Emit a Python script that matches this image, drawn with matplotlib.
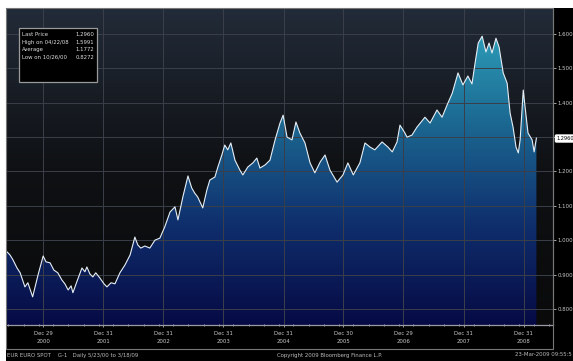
import numpy as np
import pandas as pd
import matplotlib
matplotlib.use("Agg")
import matplotlib.pyplot as plt
import matplotlib.dates as mdates
from matplotlib.colors import LinearSegmentedColormap
from matplotlib.patches import Rectangle

# EUR/USD spot
dates = ["2000-05-23", "2000-06-10", "2000-06-28", "2000-07-23", "2000-08-11", "2000-08-29",
         "2000-09-09", "2000-09-27", "2000-10-26", "2000-11-10", "2000-11-28", "2000-12-29",
         "2001-01-15", "2001-02-09", "2001-03-04", "2001-03-28", "2001-04-22", "2001-05-10",
         "2001-05-30", "2001-06-17", "2001-06-28", "2001-07-22", "2001-08-22", "2001-09-09",
         "2001-09-21", "2001-10-09", "2001-10-27", "2001-11-14", "2001-12-09", "2002-01-03",
         "2002-01-21", "2002-02-15", "2002-03-11", "2002-04-10", "2002-05-11", "2002-06-11",
         "2002-07-10", "2002-07-28", "2002-08-15", "2002-09-09", "2002-10-09", "2002-11-09",
         "2002-12-09", "2003-01-08", "2003-02-09", "2003-03-11", "2003-03-29", "2003-04-28",
         "2003-05-29", "2003-06-21", "2003-07-09", "2003-07-27", "2003-08-27", "2003-09-21",
         "2003-10-09", "2003-11-09", "2003-11-27", "2003-12-21", "2004-01-08", "2004-01-26",
         "2004-02-14", "2004-03-10", "2004-04-09", "2004-04-27", "2004-05-27", "2004-06-27",
         "2004-07-21", "2004-08-09", "2004-09-09", "2004-10-09", "2004-11-09", "2004-12-09",
         "2004-12-28", "2005-01-21", "2005-02-20", "2005-03-16", "2005-04-09", "2005-05-10",
         "2005-06-10", "2005-07-09", "2005-08-11", "2005-09-09", "2005-10-09", "2005-11-21",
         "2005-12-27", "2006-01-26", "2006-02-28", "2006-04-09", "2006-05-10", "2006-06-10",
         "2006-07-09", "2006-08-22", "2006-09-27", "2006-10-23", "2006-11-21", "2006-12-09",
         "2007-01-08", "2007-01-21", "2007-02-20", "2007-03-22", "2007-05-10", "2007-06-10",
         "2007-07-22", "2007-08-22", "2007-09-21", "2007-10-23", "2007-11-27", "2007-12-27",
         "2008-01-26", "2008-02-20", "2008-03-11", "2008-03-29", "2008-04-22", "2008-05-15",
         "2008-06-03", "2008-06-21", "2008-07-15", "2008-08-03", "2008-08-28", "2008-09-21",
         "2008-10-09", "2008-10-27", "2008-11-14", "2008-11-28", "2008-12-09", "2008-12-28",
         "2009-01-08", "2009-01-26", "2009-02-20", "2009-03-04", "2009-03-18"]
prices = [0.966, 0.957, 0.943, 0.919, 0.905, 0.879,
          0.864, 0.876, 0.835, 0.864, 0.899, 0.954,
          0.937, 0.934, 0.913, 0.905, 0.884, 0.873,
          0.855, 0.867, 0.847, 0.879, 0.919, 0.908,
          0.922, 0.902, 0.893, 0.905, 0.890, 0.873,
          0.864, 0.876, 0.873, 0.905, 0.928, 0.957,
          1.009, 0.986, 0.977, 0.983, 0.977, 1.000,
          1.006, 1.039, 1.082, 1.097, 1.059, 1.126,
          1.187, 1.152, 1.137, 1.126, 1.094, 1.146,
          1.175, 1.184, 1.213, 1.248, 1.277, 1.263,
          1.283, 1.233, 1.204, 1.190, 1.213, 1.225,
          1.239, 1.210, 1.219, 1.233, 1.292, 1.341,
          1.364, 1.300, 1.292, 1.344, 1.312, 1.283,
          1.225, 1.196, 1.228, 1.248, 1.204, 1.169,
          1.190, 1.225, 1.190, 1.225, 1.283, 1.271,
          1.263, 1.286, 1.271, 1.257, 1.286, 1.335,
          1.312, 1.300, 1.306, 1.329, 1.358, 1.341,
          1.379, 1.358, 1.393, 1.428, 1.487, 1.452,
          1.478, 1.455, 1.519, 1.574, 1.594, 1.548,
          1.574, 1.545, 1.588, 1.562, 1.487, 1.457,
          1.370, 1.329, 1.271, 1.254, 1.292, 1.437,
          1.388, 1.312, 1.292, 1.257, 1.297]

tick_dates = ["2000-12-29", "2001-12-31", "2002-12-31", "2003-12-31", "2004-12-31",
              "2005-12-30", "2006-12-29", "2007-12-31", "2008-12-31"]
tick_labels = ["Dec 29\n2000", "Dec 31\n2001", "Dec 31\n2002", "Dec 31\n2003", "Dec 31\n2004",
               "Dec 30\n2005", "Dec 29\n2006", "Dec 31\n2007", "Dec 31\n2008"]
y_ticks = [0.8, 0.9, 1.0, 1.1, 1.2, 1.3, 1.4, 1.5, 1.6]
stats_names = ["Last Price", "High on 04/22/08", "Average", "Low on 10/26/00"]
stats_values = ["1.2960", "1.5991", "1.1772", "0.8272"]
last_price = 1.2960

plt.rcParams['font.family'] = ['DejaVu Sans']
fs = 3.9

W, H = 573, 361
fig = plt.figure(figsize=(W / 100, H / 100), dpi=100, facecolor='white')
# black panel (white strip at top and left like the screenshot)
fig.patches.append(Rectangle((6 / W, 0), 1, (H - 8) / H, transform=fig.transFigure,
                             facecolor='black', edgecolor='none', zorder=-10))

AW, AH = 546, 317
ax = fig.add_axes([7 / W, (H - 325) / H, AW / W, AH / H])
x = pd.to_datetime(dates)
xn = mdates.date2num(x)
x0 = mdates.date2num(pd.Timestamp("2000-05-23"))
x1 = mdates.date2num(pd.Timestamp("2009-06-27"))
y0, y1 = 0.753, 1.676
ax.set_xlim(x0, x1)
ax.set_ylim(y0, y1)

# background gradient
bg = LinearSegmentedColormap.from_list('bg', ['#0a0a0b', '#0f1114', '#222b38'])
grad = np.linspace(0, 1, 256).reshape(-1, 1)
ax.imshow(grad, cmap=bg, aspect='auto', extent=[x0, x1, y0, y1], origin='lower', zorder=0)

# fill under curve with gradient
fillc = LinearSegmentedColormap.from_list('fill', ['#060a44', '#0f2e6c', '#1b6690', '#2e9fba'])
poly = ax.fill_between(xn, prices, y0, color='none', zorder=1)
img = ax.imshow(grad, cmap=fillc, aspect='auto', extent=[x0, x1, y0, 1.62], origin='lower', zorder=1)
img.set_clip_path(poly.get_paths()[0], transform=ax.transData)

ax.plot(xn, prices, color='#e6eef5', lw=0.8, zorder=3)

# grid
for d in tick_dates:
    ax.axvline(mdates.date2num(pd.Timestamp(d)), color='#3a3f49', lw=0.7, zorder=2)
for yv in y_ticks:
    ax.axhline(yv, color='#3a3f49', lw=0.7, zorder=2)

ax.set_xticks(mdates.date2num(pd.to_datetime(tick_dates)))
ax.set_xticklabels(tick_labels, fontsize=fs, color='#c8c8c8', linespacing=1.7)
ax.xaxis.set_minor_locator(mdates.MonthLocator(bymonth=[3, 6, 9, 12]))
ax.tick_params(axis='x', which='both', color='#bbbbbb', direction='inout', length=3, width=0.6, pad=3)
ax.tick_params(axis='x', which='minor', length=2)

ax.yaxis.tick_right()
ax.set_yticks(y_ticks)
ax.set_yticklabels([f"{v:.3f}" for v in y_ticks], fontsize=fs, color='#c8c8c8')
ax.tick_params(axis='y', color='#bbbbbb', direction='out', length=2, width=0.6, pad=1)

for s in ['top', 'left']:
    ax.spines[s].set_visible(False)
ax.spines['bottom'].set_color('#9a9aa6')
ax.spines['bottom'].set_linewidth(0.9)
ax.spines['right'].set_color('#777777')
ax.spines['right'].set_linewidth(0.8)

# last price tag
ax.annotate(f"{last_price:.4f}", xy=(1.0, last_price), xycoords=('axes fraction', 'data'),
            xytext=(2.5, 0), textcoords='offset points', fontsize=3.6, color='black',
            va='center', ha='left',
            bbox=dict(boxstyle='round,pad=0.2', fc='white', ec='white'))

# stats box
ax.add_patch(Rectangle((12 / AW, 1 - 74 / AH), 78 / AW, 54 / AH, transform=ax.transAxes,
                       facecolor='black', edgecolor='#9a9a9a', lw=0.9, zorder=5))
ax.text(15 / AW, 1 - 24 / AH, "\n".join(stats_names), transform=ax.transAxes, fontsize=fs,
        color='#dddddd', va='top', ha='left', linespacing=1.65, zorder=6)
ax.text(87 / AW, 1 - 24 / AH, "\n".join(stats_values), transform=ax.transAxes, fontsize=fs,
        color='#dddddd', va='top', ha='right', linespacing=1.65, zorder=6)

# outer frame around plot + date labels
fig.patches.append(Rectangle((6 / W, (H - 349) / H), 547 / W, 341 / H, transform=fig.transFigure,
                             facecolor='none', edgecolor='#777777', lw=0.8, zorder=5))

fig.text(7 / W, 6 / H, "EUR EURO SPOT    G-1   Daily 5/23/00 to 3/18/09", fontsize=fs,
         color='#bbbbbb', va='center', ha='left')
fig.text(330 / W, 6 / H, "Copyright 2009 Bloomberg Finance L.P.", fontsize=fs,
         color='#bbbbbb', va='center', ha='center')
fig.text(572 / W, 6 / H, "23-Mar-2009 09:55:5", fontsize=fs,
         color='#bbbbbb', va='center', ha='right')

fig.savefig("out.png", dpi=100, facecolor=fig.get_facecolor())
